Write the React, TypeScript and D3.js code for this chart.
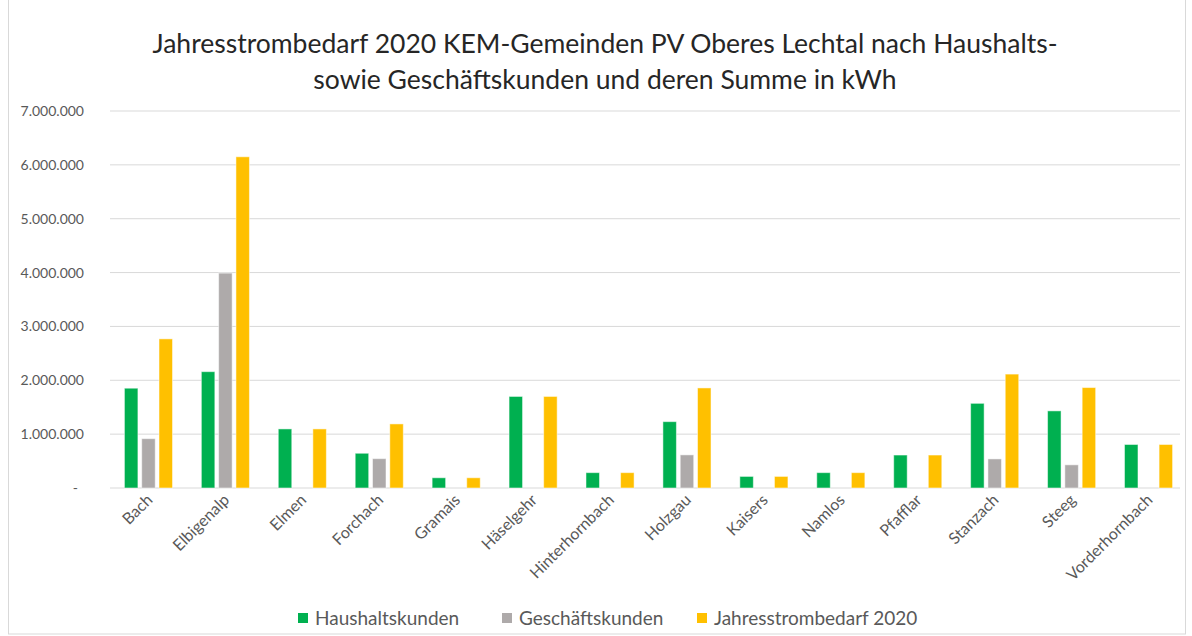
import React from "react";
import * as d3 from "d3";

const categories = ["Bach","Elbigenalp","Elmen","Forchach","Gramais","Häselgehr","Hinterhornbach","Holzgau","Kaisers","Namlos","Pfafflar","Stanzach","Steeg","Vorderhornbach"];
const haushalt = [1853000,2160000,1097000,645000,190000,1700000,285000,1232000,215000,285000,612000,1572000,1432000,808000];
const geschaeft = [916000,3990000,0,545000,0,0,0,615000,0,0,0,540000,430000,0];
const summe = [2769000,6150000,1097000,1190000,190000,1700000,285000,1858000,215000,285000,612000,2115000,1865000,808000];
const seriesNames = ["Haushaltskunden","Geschäftskunden","Jahresstrombedarf 2020"];
const colors = ["#00B050","#AEAAAA","#FFC000"];
const yTicks = [0,1000000,2000000,3000000,4000000,5000000,6000000,7000000];

const W = 1192, H = 636;
const left = 110, right = 1187, top = 111, bottom = 488;

const deLocale = d3.formatLocale({ decimal: ",", thousands: ".", grouping: [3], currency: ["", "€"] });
const fmt = deLocale.format(",.0f");

export default function App() {
  const x = d3.scaleBand<string>().domain(categories).range([left, right]).paddingInner(0).paddingOuter(0);
  const y = d3.scaleLinear().domain([0, 7000000]).range([bottom, top]);
  const bw = 13.5, gap = 3.8;
  const series = [haushalt, geschaeft, summe];
  const font = "Lato, 'Open Sans', sans-serif";
  return (
    <svg width={W} height={H} style={{ position: "absolute", left: 0, top: 0, background: "#fff" }} fontFamily={font}>
      <rect x={8.5} y={-1} width={1177} height={635} fill="#fff" stroke="#d9d9d9" />
      <text x={605} y={53} textAnchor="middle" fontSize={26.5} fill="#262626">Jahresstrombedarf 2020 KEM-Gemeinden PV Oberes Lechtal nach Haushalts-</text>
      <text x={605} y={89} textAnchor="middle" fontSize={26.5} fill="#262626">sowie Geschäftskunden und deren Summe in kWh</text>
      {yTicks.map(t => (
        <g key={t}>
          <line x1={left} x2={1180} y1={y(t)} y2={y(t)} stroke="#d9d9d9" strokeWidth={1} />
          <text x={t === 0 ? 78 : 84} y={y(t) + 5} textAnchor="end" fontSize={14} fill="#595959">{t === 0 ? "-" : fmt(t)}</text>
        </g>
      ))}
      {categories.map((c, i) => {
        const cx = (x(c) as number) + x.bandwidth() / 2;
        return (
          <g key={c}>
            {series.map((s, k) => s[i] > 0 ? (
              <rect key={k} x={cx + (k - 1) * (bw + gap) - bw / 2} y={y(s[i])} width={bw} height={y(0) - y(s[i])}
                fill={colors[k]} stroke="#ffffff" strokeOpacity={0.5} strokeWidth={1} />
            ) : null)}
            <text transform={`translate(${cx + 5},${501}) rotate(-45)`} textAnchor="end" fontSize={16} fill="#595959">{c}</text>
          </g>
        );
      })}
      {seriesNames.map((n, k) => {
        const lx = [298, 502, 697][k];
        return (
          <g key={n}>
            <rect x={lx} y={613} width={10} height={10} fill={colors[k]} />
            <text x={lx + 17} y={625} fontSize={19} fill="#595959">{n}</text>
          </g>
        );
      })}
    </svg>
  );
}
